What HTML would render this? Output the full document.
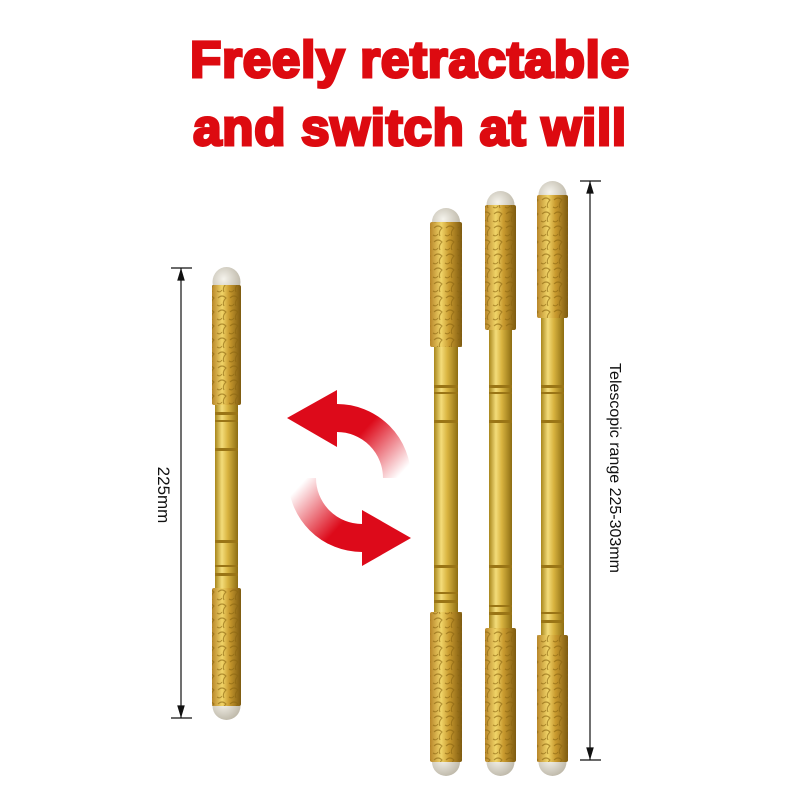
<!DOCTYPE html>
<html><head><meta charset="utf-8"><style>
body{margin:0;background:#fff;width:800px;height:800px;overflow:hidden;position:relative;font-family:"Liberation Sans",sans-serif}
.t{position:absolute;left:0;width:820px;text-align:center;color:#dd0a10;font-weight:bold;font-size:51px;-webkit-text-stroke:3px #dd0a10;letter-spacing:0.8px}
</style></head><body>
<div class="t" style="top:30px">Freely retractable</div>
<div class="t" style="top:98px">and switch at will</div>
<svg width="800" height="800" style="position:absolute;left:0;top:0">
<defs>
<linearGradient id="g" x1="0" x2="1" y1="0" y2="0">
<stop offset="0" stop-color="#a8861c"/><stop offset="0.3" stop-color="#f3dc7a"/><stop offset="0.55" stop-color="#d9b440"/><stop offset="1" stop-color="#8d6d12"/></linearGradient>
<linearGradient id="gr" x1="0" x2="1" y1="0" y2="0">
<stop offset="0" stop-color="#b8862a"/><stop offset="0.35" stop-color="#f0d468"/><stop offset="0.6" stop-color="#c99a2e"/><stop offset="1" stop-color="#7d5a10"/></linearGradient>
<radialGradient id="cap" cx="0.4" cy="0.4" r="0.7"><stop offset="0" stop-color="#f5f3ec"/><stop offset="1" stop-color="#b9b3a3"/></radialGradient>
<linearGradient id="a1" gradientUnits="userSpaceOnUse" x1="340" y1="420" x2="400" y2="475"><stop offset="0.3" stop-color="#dd0a1a"/><stop offset="1" stop-color="#dd0a1a" stop-opacity="0"/></linearGradient>
<linearGradient id="a2" gradientUnits="userSpaceOnUse" x1="300" y1="485" x2="360" y2="540"><stop offset="0" stop-color="#dd0a1a" stop-opacity="0"/><stop offset="0.7" stop-color="#dd0a1a"/></linearGradient>
<pattern id="orn" width="12" height="14" patternUnits="userSpaceOnUse"><path d="M2 4 q4 -4 8 0 q-4 4 -2 8 M1 11 q3 2 5 -1" stroke="#8a6510" stroke-width="1.1" fill="none"/></pattern>
</defs>
<g stroke="#111" stroke-width="1.2" fill="#111">
<line x1="181" y1="268" x2="181" y2="718"/><line x1="171" y1="268" x2="192" y2="268"/><line x1="171" y1="718" x2="192" y2="718"/>
<path d="M181 270 l-3 10 h6z M181 716 l-3 -10 h6z"/>
<line x1="590" y1="181" x2="590" y2="760"/><line x1="580" y1="181" x2="601" y2="181"/><line x1="580" y1="760" x2="601" y2="760"/>
<path d="M590 183 l-3 10 h6z M590 758 l-3 -10 h6z"/>
</g>
<text x="158" y="495" transform="rotate(90 158 495)" text-anchor="middle" font-family="Liberation Sans" font-size="17" fill="#111">225mm</text>
<text x="610" y="468" transform="rotate(90 610 468)" text-anchor="middle" font-family="Liberation Sans" font-size="16" fill="#111">Telescopic range 225-303mm</text>
<path d="M337 418 A60 60 0 0 1 397 478" stroke="url(#a1)" stroke-width="28" fill="none"/>
<path d="M287 418 L337 390 L337 447Z" fill="#dd0a1a"/>
<path d="M302 478 A60 60 0 0 0 362 538" stroke="url(#a2)" stroke-width="28" fill="none"/>
<path d="M411 538 L362 510 L362 566Z" fill="#dd0a1a"/>
<!-- left pen -->
<ellipse cx="226.5" cy="282" rx="14" ry="15" fill="url(#cap)"/>
<ellipse cx="226.5" cy="706" rx="14" ry="14" fill="url(#cap)"/>
<rect x="215" y="400" width="23" height="192" fill="url(#g)"/>
<rect x="212" y="285" width="29" height="120" rx="2" fill="url(#gr)"/><rect x="212" y="285" width="29" height="120" fill="url(#orn)" opacity="0.6"/>
<rect x="212" y="588" width="29" height="118" rx="2" fill="url(#gr)"/><rect x="212" y="588" width="29" height="118" fill="url(#orn)" opacity="0.6"/>
<g fill="#9a7516"><rect x="215" y="412" width="23" height="3"/><rect x="215" y="420" width="23" height="2"/><rect x="215" y="448" width="23" height="3"/><rect x="215" y="540" width="23" height="3"/><rect x="215" y="565" width="23" height="2"/><rect x="215" y="573" width="23" height="3"/></g>
<!-- pen1 -->
<ellipse cx="446" cy="222" rx="14" ry="14" fill="url(#cap)"/>
<ellipse cx="446" cy="762" rx="14" ry="14" fill="url(#cap)"/>
<rect x="434" y="340" width="24" height="278" fill="url(#g)"/>
<rect x="430" y="222" width="32" height="125" rx="2" fill="url(#gr)"/><rect x="430" y="222" width="32" height="125" fill="url(#orn)" opacity="0.6"/>
<rect x="430" y="612" width="32" height="150" rx="2" fill="url(#gr)"/><rect x="430" y="612" width="32" height="150" fill="url(#orn)" opacity="0.6"/>
<g fill="#9a7516"><rect x="434" y="385" width="24" height="3"/><rect x="434" y="392" width="24" height="2"/><rect x="434" y="420" width="24" height="3"/><rect x="434" y="565" width="24" height="3"/><rect x="434" y="592" width="24" height="2"/><rect x="434" y="600" width="24" height="3"/></g>
<!-- pen2 -->
<ellipse cx="500.5" cy="205" rx="14" ry="14" fill="url(#cap)"/>
<ellipse cx="500.5" cy="762" rx="14" ry="14" fill="url(#cap)"/>
<rect x="489" y="325" width="23" height="308" fill="url(#g)"/>
<rect x="485" y="205" width="31" height="125" rx="2" fill="url(#gr)"/><rect x="485" y="205" width="31" height="125" fill="url(#orn)" opacity="0.6"/>
<rect x="485" y="628" width="31" height="134" rx="2" fill="url(#gr)"/><rect x="485" y="628" width="31" height="134" fill="url(#orn)" opacity="0.6"/>
<g fill="#9a7516"><rect x="489" y="385" width="23" height="3"/><rect x="489" y="392" width="23" height="2"/><rect x="489" y="420" width="23" height="3"/><rect x="489" y="565" width="23" height="3"/><rect x="489" y="605" width="23" height="2"/><rect x="489" y="612" width="23" height="3"/></g>
<!-- pen3 -->
<ellipse cx="552.5" cy="195" rx="14" ry="14" fill="url(#cap)"/>
<ellipse cx="552.5" cy="762" rx="14" ry="14" fill="url(#cap)"/>
<rect x="541" y="312" width="23" height="328" fill="url(#g)"/>
<rect x="537" y="195" width="31" height="123" rx="2" fill="url(#gr)"/><rect x="537" y="195" width="31" height="123" fill="url(#orn)" opacity="0.6"/>
<rect x="537" y="635" width="31" height="127" rx="2" fill="url(#gr)"/><rect x="537" y="635" width="31" height="127" fill="url(#orn)" opacity="0.6"/>
<g fill="#9a7516"><rect x="541" y="385" width="23" height="3"/><rect x="541" y="392" width="23" height="2"/><rect x="541" y="420" width="23" height="3"/><rect x="541" y="565" width="23" height="3"/><rect x="541" y="612" width="23" height="2"/><rect x="541" y="620" width="23" height="3"/></g>
</svg>
</body></html>
